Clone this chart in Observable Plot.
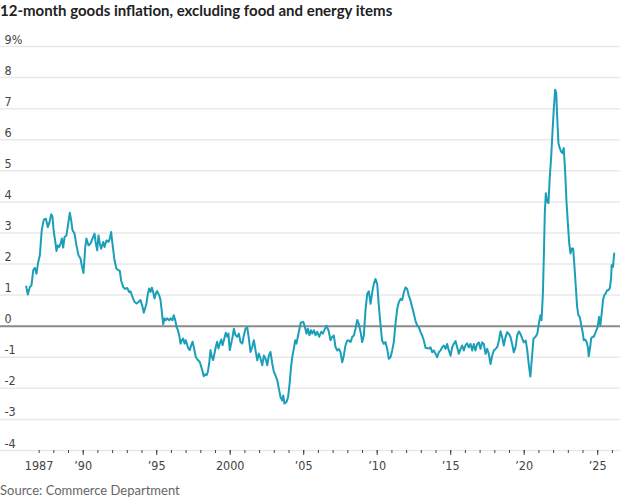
<!DOCTYPE html>
<html>
<head>
<meta charset="utf-8">
<script src="https://cdn.jsdelivr.net/npm/d3@7"></script>
<script src="https://cdn.jsdelivr.net/npm/@observablehq/plot@0.6"></script>
<style>
  html, body { margin: 0; padding: 0; background: #fff; }
  #title { font-family: Lato, "Open Sans", sans-serif; font-weight: 700; font-size: 15px; color: #222; height: 22px; line-height: 20px; white-space: nowrap; }
  #source { font-family: Lato, "Open Sans", sans-serif; font-size: 13px; color: #666; height: 20px; line-height: 20px; }
  svg { display: block; }
</style>
</head>
<body>
<div id="title">12-month goods inflation, excluding food and energy items</div>
<div id="chart"></div>
<div id="source">Source: Commerce Department</div>
<script>
const years = [
1986.12,1986.23,1986.37,1986.48,1986.60,1986.71,1986.82,1986.94,1987.05,1987.18,1987.32,1987.46,1987.59,1987.71,1987.82,1987.91,
1988.00,1988.09,1988.18,1988.27,1988.37,1988.46,1988.55,1988.64,1988.73,1988.86,1988.98,1989.09,1989.18,1989.27,1989.41,1989.54,
1989.68,1989.82,1989.90,1990.02,1990.14,1990.22,1990.36,1990.50,1990.63,1990.77,1990.86,1990.95,1991.04,1991.13,1991.22,1991.36,
1991.45,1991.58,1991.72,1991.81,1991.90,1991.99,1992.13,1992.26,1992.40,1992.49,1992.58,1992.72,1992.86,1992.99,1993.13,1993.22,
1993.35,1993.49,1993.63,1993.76,1993.90,1994.04,1994.12,1994.21,1994.30,1994.40,1994.49,1994.58,1994.67,1994.76,1994.85,1994.94,
1995.03,1995.17,1995.26,1995.35,1995.44,1995.53,1995.62,1995.71,1995.85,1995.94,1996.07,1996.16,1996.26,1996.35,1996.44,1996.53,
1996.62,1996.71,1996.80,1996.90,1996.98,1997.08,1997.16,1997.25,1997.35,1997.44,1997.52,1997.66,1997.80,1997.93,1998.03,1998.10,
1998.20,1998.30,1998.39,1998.48,1998.57,1998.66,1998.75,1998.84,1998.93,1999.02,1999.11,1999.20,1999.29,1999.39,1999.48,1999.57,
1999.70,1999.80,1999.88,1999.97,2000.14,2000.25,2000.36,2000.48,2000.59,2000.70,2000.82,2000.93,2001.04,2001.16,2001.27,2001.38,
2001.50,2001.61,2001.72,2001.84,2001.95,2002.06,2002.18,2002.29,2002.40,2002.52,2002.63,2002.74,2002.86,2002.97,2003.08,2003.20,
2003.31,2003.42,2003.54,2003.61,2003.69,2003.83,2003.94,2004.04,2004.15,2004.24,2004.33,2004.42,2004.51,2004.60,2004.69,2004.80,
2004.97,2005.07,2005.19,2005.28,2005.39,2005.49,2005.58,2005.70,2005.80,2005.92,2006.05,2006.19,2006.30,2006.42,2006.55,2006.69,
2006.82,2006.93,2007.05,2007.16,2007.28,2007.39,2007.50,2007.62,2007.73,2007.84,2007.96,2008.07,2008.18,2008.30,2008.41,2008.52,
2008.64,2008.75,2008.87,2008.98,2009.09,2009.20,2009.32,2009.43,2009.55,2009.66,2009.77,2009.88,2010.00,2010.10,2010.22,2010.33,
2010.45,2010.56,2010.68,2010.79,2010.91,2011.02,2011.13,2011.24,2011.36,2011.47,2011.59,2011.70,2011.81,2011.93,2012.04,2012.15,
2012.27,2012.38,2012.49,2012.60,2012.72,2012.83,2012.95,2013.06,2013.17,2013.29,2013.40,2013.51,2013.63,2013.74,2013.85,2013.97,
2014.08,2014.19,2014.31,2014.42,2014.53,2014.65,2014.76,2014.87,2014.99,2015.10,2015.21,2015.33,2015.44,2015.55,2015.67,2015.78,
2015.89,2016.00,2016.12,2016.23,2016.35,2016.46,2016.57,2016.68,2016.80,2016.91,2017.03,2017.14,2017.25,2017.37,2017.48,2017.59,
2017.71,2017.82,2017.93,2018.05,2018.16,2018.28,2018.39,2018.50,2018.61,2018.73,2018.84,2018.96,2019.07,2019.18,2019.29,2019.41,
2019.52,2019.64,2019.75,2019.87,2019.97,2020.10,2020.21,2020.33,2020.42,2020.55,2020.63,2020.77,2020.89,2021.00,2021.11,2021.18,
2021.27,2021.34,2021.40,2021.47,2021.56,2021.65,2021.74,2021.83,2021.92,2022.01,2022.10,2022.18,2022.24,2022.33,2022.42,2022.51,
2022.60,2022.69,2022.79,2022.87,2022.97,2023.06,2023.15,2023.24,2023.33,2023.42,2023.51,2023.60,2023.69,2023.78,2023.88,2023.97,
2024.05,2024.15,2024.24,2024.33,2024.39,2024.49,2024.55,2024.64,2024.73,2024.82,2024.91,2025.00,2025.09,2025.18,2025.27,2025.36,
2025.45,2025.54,2025.64,2025.73,2025.82,2025.91,2025.95,2026.04,2026.12
];
const values = [
1.28,1.02,1.26,1.31,1.80,1.88,1.69,2.06,2.28,3.09,3.43,3.46,3.19,3.35,3.60,3.52,
3.03,2.76,2.42,2.60,2.55,2.66,2.82,2.53,2.87,2.92,3.30,3.65,3.41,3.09,2.98,2.60,
2.28,2.17,1.96,1.71,2.55,2.82,2.60,2.66,2.82,2.98,2.66,2.44,2.92,2.66,2.49,2.71,
2.55,2.76,2.71,2.82,3.03,2.66,2.12,1.85,1.80,1.78,1.47,1.26,1.20,1.23,1.10,1.12,
0.94,0.78,0.73,0.78,0.84,0.62,0.43,0.57,0.73,1.05,1.21,1.10,1.24,1.10,0.89,1.05,
1.13,0.99,0.84,0.46,0.06,0.25,0.19,0.25,0.19,0.25,0.19,0.35,0.19,-0.02,-0.13,-0.29,
-0.56,-0.45,-0.40,-0.56,-0.45,-0.61,-0.72,-0.77,-0.61,-0.50,-0.66,-0.99,-1.09,-1.15,-1.31,-1.42,
-1.61,-1.55,-1.58,-1.47,-1.20,-0.77,-0.99,-1.09,-0.88,-0.66,-0.50,-0.72,-0.56,-0.43,-0.61,-0.45,
-0.21,-0.34,-0.24,-0.77,-0.40,-0.08,-0.29,-0.34,-0.24,-0.51,-0.56,-0.29,-0.08,-0.04,-0.40,-0.83,
-0.67,-0.45,-0.77,-1.10,-0.88,-1.04,-1.26,-0.94,-1.04,-1.26,-0.94,-0.83,-1.20,-1.47,-1.58,-1.74,
-2.01,-2.28,-2.39,-2.23,-2.49,-2.44,-2.28,-1.85,-1.26,-0.94,-0.72,-0.45,-0.56,-0.34,-0.13,0.11,
0.14,0.00,-0.24,-0.08,-0.29,-0.13,-0.24,-0.13,-0.29,-0.18,-0.34,-0.18,-0.24,-0.11,0.02,-0.14,
-0.45,-0.35,-0.30,-0.67,-0.78,-0.73,-0.83,-1.16,-0.94,-0.62,-0.46,-0.46,-0.51,-0.35,-0.30,-0.09,
0.20,0.07,-0.19,-0.51,-0.30,0.50,1.04,1.12,0.72,1.09,1.36,1.52,1.36,0.72,0.07,-0.46,
-0.57,-0.51,-0.73,-1.05,-0.99,-0.78,-0.51,0.07,0.56,0.77,0.88,0.84,1.09,1.25,1.20,0.98,
0.82,0.61,0.40,0.18,0.02,-0.03,-0.19,-0.30,-0.46,-0.70,-0.70,-0.72,-0.68,-0.84,-0.78,-0.89,
-1.00,-0.84,-0.78,-0.68,-0.62,-0.73,-0.57,-0.78,-0.95,-0.68,-0.57,-0.48,-0.68,-0.89,-0.73,-0.62,
-0.78,-0.62,-0.55,-0.68,-0.57,-0.78,-0.57,-0.78,-0.57,-0.52,-0.73,-0.52,-0.57,-0.89,-0.73,-0.89,
-1.22,-0.95,-0.78,-0.73,-0.68,-0.46,-0.16,-0.35,-0.62,-0.35,-0.19,-0.25,-0.35,-0.57,-0.84,-0.68,
-0.30,-0.17,-0.25,-0.41,-0.52,-0.46,-0.78,-1.32,-1.62,-0.88,-0.40,-0.34,-0.24,0.09,0.35,0.19,
1.05,2.34,3.63,4.28,4.01,3.96,4.82,5.41,6.22,6.97,7.61,7.50,6.75,5.89,5.73,5.62,
5.57,5.73,4.92,4.06,3.31,2.67,2.34,2.50,2.50,1.91,1.27,0.62,0.35,0.30,0.03,-0.18,
-0.45,-0.43,-0.50,-0.67,-0.97,-0.67,-0.40,-0.34,-0.34,-0.24,-0.13,-0.02,0.30,0.03,0.41,0.84,
1.00,1.05,1.16,1.16,1.22,1.54,1.97,1.91,2.34
];
const yTicks = [9, 8, 7, 6, 5, 4, 3, 2, 1, 0, -1, -2, -3, -4];
const yTickLabels = ["9%", "8", "7", "6", "5", "4", "3", "2", "1", "0", "-1", "-2", "-3", "-4"];
const minorTickYears = d3.range(1987, 2027);
const majorTickYears = [1990, 1995, 2000, 2005, 2010, 2015, 2020, 2025];
const labelYears = [1987, 1990, 1995, 2000, 2005, 2010, 2015, 2020, 2025];
const labelTexts = ["1987", "\u201990", "\u201995", "2000", "\u201905", "\u201910", "\u201915", "\u201920", "\u201925"];

const data = years.map((y, i) => ({year: y, value: values[i]}));
const narrow = '"Liberation Sans Narrow", "DejaVu Sans Condensed", Roboto, sans-serif';

const chart = Plot.plot({
  width: 620,
  height: 458,
  marginLeft: 0,
  marginRight: 0,
  marginTop: 24,
  marginBottom: 30,
  x: {type: "linear", domain: [1984.374, 2026.55], axis: null, label: null},
  y: {domain: [-4, 9], axis: null, label: null},
  style: {fontFamily: narrow, fontSize: "12.5px", background: "#fff", overflow: "visible"},
  marks: [
    Plot.ruleY(yTicks.filter(d => d !== 0), {stroke: "#e9e9e9", strokeWidth: 1.5}),
    Plot.axisX({ticks: minorTickYears, tickSize: 3, tickFormat: () => "", stroke: "#444", label: null}),
    Plot.axisX({ticks: majorTickYears, tickSize: 5, tickFormat: () => "", stroke: "#444", label: null}),
    Plot.axisX({ticks: labelYears, tickSize: 0, tickPadding: 11, fill: "#444", fontSize: 12.5,
      tickFormat: d => labelTexts[labelYears.indexOf(d)], label: null}),
    Plot.text(yTicks, {y: d => d, frameAnchor: "left", text: (d, i) => yTickLabels[i],
      textAnchor: "start", dx: 4, dy: -7, fill: "#444", fontSize: 12.5}),
    Plot.ruleY([0], {stroke: "#8a8a8a", strokeWidth: 2}),
    Plot.line(data, {x: "year", y: "value", stroke: "#1b9fb9", strokeWidth: 2, strokeLinejoin: "round"})
  ]
});
document.getElementById("chart").append(chart);
</script>
</body>
</html>
